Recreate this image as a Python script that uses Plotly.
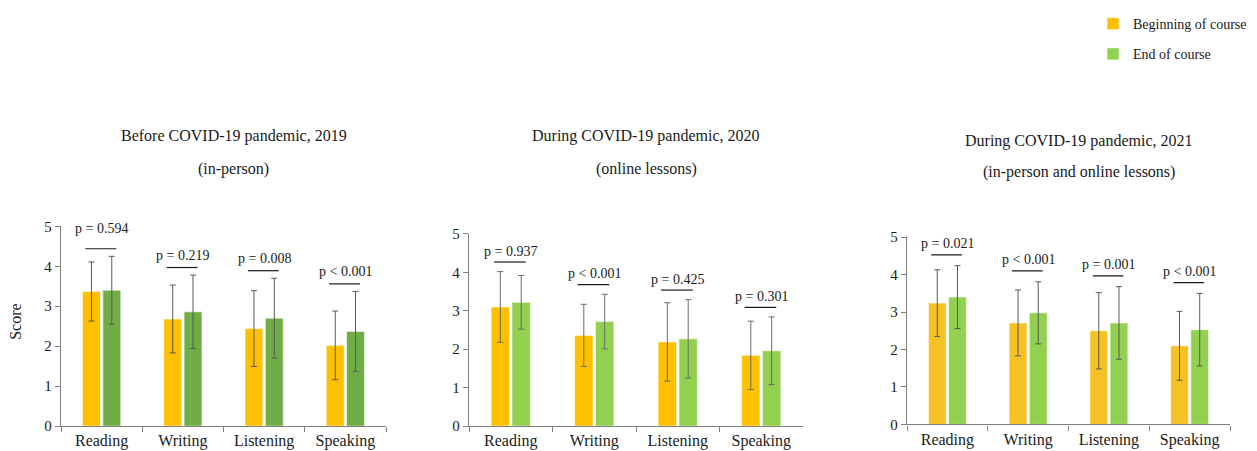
import plotly.graph_objects as go

skills = ["Reading", "Writing", "Listening", "Speaking"]
series_names = ["Beginning of course", "End of course"]

titles = ["Before COVID-19 pandemic, 2019",
          "During COVID-19 pandemic, 2020",
          "During COVID-19 pandemic, 2021"]
subtitles = ["(in-person)", "(online lessons)", "(in-person and online lessons)"]

# Means and SDs
begin_2019 = [3.37, 2.68, 2.44, 2.02]
end_2019 = [3.40, 2.86, 2.70, 2.37]
begin_sd_2019 = [0.74, 0.85, 0.95, 0.86]
end_sd_2019 = [0.85, 0.92, 1.00, 1.00]

begin_2020 = [3.10, 2.36, 2.19, 1.84]
end_2020 = [3.22, 2.72, 2.27, 1.96]
begin_sd_2020 = [0.92, 0.81, 1.02, 0.89]
end_sd_2020 = [0.70, 0.71, 1.02, 0.88]

begin_2021 = [3.24, 2.71, 2.50, 2.10]
end_2021 = [3.40, 2.98, 2.71, 2.53]
begin_sd_2021 = [0.89, 0.88, 1.02, 0.92]
end_sd_2021 = [0.84, 0.83, 0.97, 0.97]

p_2019 = ["p = 0.594", "p = 0.219", "p = 0.008", "p < 0.001"]
p_2020 = ["p = 0.937", "p < 0.001", "p = 0.425", "p = 0.301"]
p_2021 = ["p = 0.021", "p < 0.001", "p = 0.001", "p < 0.001"]

y_ticks = [0, 1, 2, 3, 4, 5]

# the page body has an 8px margin: work in page pixels and shift
OFF = 8
W, H = 1257 - OFF, 451 - OFF


def px(x):
    return (x - OFF) / W


def py(y):
    return 1 - (y - OFF) / H


panels = [
    dict(begin=begin_2019, end=end_2019, bsd=begin_sd_2019, esd=end_sd_2019, p=p_2019,
         cb="#FFC000", ce="#70AD47", dom_x=[61, 386], dom_y=[223.3, 425.7], gap=0.19,
         tshift=[20, 12, 12, 12], title_y=[132, 165], err="#595959"),
    dict(begin=begin_2020, end=end_2020, bsd=begin_sd_2020, esd=end_sd_2020, p=p_2020,
         cb="#FFC000", ce="#92D050", dom_x=[469, 803], dom_y=[231.0, 425.7], gap=0.25,
         tshift=[11, 11, 11, 11], title_y=[132, 165], err="#6b6b6b"),
    dict(begin=begin_2021, end=end_2021, bsd=begin_sd_2021, esd=end_sd_2021, p=p_2021,
         cb="#F6C125", ce="#92D050", dom_x=[907, 1230], dom_y=[234.3, 424.0], gap=0.29,
         tshift=[11, 11, 11, 11], title_y=[137, 168], err="#595959"),
]

FONT = "Liberation Serif"
TXT = "#1a1a1a"
AX = "#7f7f7f"

fig = go.Figure()
shapes = []
annotations = []
layout = {}

for i, pn in enumerate(panels):
    n = "" if i == 0 else str(i + 1)
    xa, ya = "x" + n, "y" + n
    for name, vals, sd, col, leg in [
        (series_names[0], pn["begin"], pn["bsd"], pn["cb"], i == 1),
        (series_names[1], pn["end"], pn["esd"], pn["ce"], i == 1),
    ]:
        fig.add_trace(go.Bar(
            x=skills, y=vals, name=name, xaxis=xa, yaxis=ya,
            marker=dict(color=col, line=dict(color="rgba(255,255,255,0.55)", width=1)),
            error_y=dict(type="data", array=sd, visible=True, color=pn["err"],
                         thickness=1, width=3),
            showlegend=leg, legendgroup=name,
        ))
    x0, x1 = pn["dom_x"]
    ytop, ybot = pn["dom_y"]
    layout["xaxis" + n] = dict(
        domain=[px(x0), px(x1)], anchor=ya, type="category",
        categoryorder="array", categoryarray=skills,
        showline=True, linecolor=AX, linewidth=1.3,
        ticks="outside", tickson="boundaries", ticklen=5, tickcolor=AX,
        tickfont=dict(family=FONT, size=16, color=TXT),
        showgrid=False, zeroline=False, automargin=False, fixedrange=True,
    )
    layout["yaxis" + n] = dict(
        domain=[py(ybot), py(ytop)], anchor=xa, range=[0, 5],
        tickvals=y_ticks, showline=True, linecolor=AX, linewidth=1.3,
        ticks="outside", ticklen=5, tickcolor=AX,
        tickfont=dict(family=FONT, size=15, color=TXT),
        showgrid=False, zeroline=False, automargin=False, fixedrange=True,
    )
    # significance brackets
    for k, lab in enumerate(pn["p"]):
        top = max(pn["begin"][k] + pn["bsd"][k], pn["end"][k] + pn["esd"][k])
        ly = top + pn["gap"]
        shapes.append(dict(type="line", xref=xa, yref=ya, x0=k - 0.2, x1=k + 0.18,
                           y0=ly, y1=ly, line=dict(color="#1a1a1a", width=1.2)))
        annotations.append(dict(xref=xa, yref=ya, x=k, y=ly, yshift=pn["tshift"][k],
                                text=lab, showarrow=False, yanchor="middle",
                                xanchor="center",
                                font=dict(family=FONT, size=14, color=TXT)))
    cx = (x0 + x1) / 2 + 10
    annotations.append(dict(xref="paper", yref="paper", x=px(cx), y=py(pn["title_y"][0]),
                            text=titles[i], showarrow=False, yanchor="middle",
                            xanchor="center",
                            font=dict(family=FONT, size=16, color=TXT)))
    annotations.append(dict(xref="paper", yref="paper", x=px(cx), y=py(pn["title_y"][1]),
                            text=subtitles[i], showarrow=False, yanchor="middle",
                            xanchor="center",
                            font=dict(family=FONT, size=16, color=TXT)))

annotations.append(dict(xref="paper", yref="paper", x=px(16), y=py(320),
                        text="Score", textangle=-90, showarrow=False,
                        xanchor="center", yanchor="middle",
                        font=dict(family=FONT, size=16, color=TXT)))

fig.update_layout(
    width=W, height=H,
    margin=dict(l=0, r=0, t=0, b=0),
    paper_bgcolor="white", plot_bgcolor="white",
    barmode="group", bargap=0.5, bargroupgap=0.12,
    shapes=shapes, annotations=annotations,
    showlegend=True,
    legend=dict(x=px(1093), y=py(2), xanchor="left", yanchor="top",
                font=dict(family=FONT, size=14, color=TXT),
                tracegroupgap=9, bgcolor="rgba(0,0,0,0)"),
    **layout,
)

fig.write_html("out.html")
